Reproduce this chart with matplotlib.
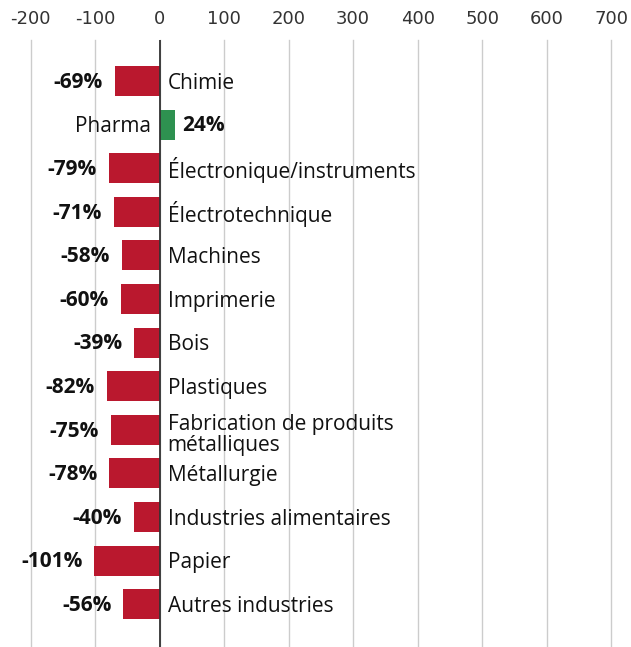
import matplotlib
matplotlib.use("Agg")
import matplotlib.pyplot as plt

# croissance des exportations par branche, en %
branches = ["Chimie", "Pharma", "Électronique/instruments", "Électrotechnique",
            "Machines", "Imprimerie", "Bois", "Plastiques",
            "Fabrication de produits\nmétalliques", "Métallurgie",
            "Industries alimentaires", "Papier", "Autres industries"]
valeurs = [-69, 24, -79, -71, -58, -60, -39, -82, -75, -78, -40, -101, -56]
xticks = [-200, -100, 0, 100, 200, 300, 400, 500, 600, 700]

ROUGE = "#BA182E"
VERT = "#2E9150"
FONT = "Open Sans"
plt.rcParams["axes.unicode_minus"] = False

fig = plt.figure(figsize=(6.31, 6.47), dpi=100)
ax = fig.add_axes([30.5 / 631, 0, 580.8 / 631, 1 - 40 / 647])

pos = list(range(len(branches)))
couleurs = [VERT if v > 0 else ROUGE for v in valeurs]
ax.barh(pos, valeurs, height=0.69, color=couleurs, zorder=2)

ax.set_xlim(-200, 700)
ax.set_ylim(12.98, -0.94)
ax.set_xticks(xticks)
ax.xaxis.tick_top()
ax.tick_params(axis="x", length=0, pad=9, labelsize=13, labelcolor="#333333")
ax.tick_params(axis="y", left=False, labelleft=False)
for lbl in ax.get_xticklabels():
    lbl.set_family("DejaVu Sans")
ax.grid(axis="x", color="#cccccc", linewidth=1, zorder=0)
for g in ax.get_xgridlines():
    g.set_clip_on(False)
for s in ax.spines.values():
    s.set_visible(False)
ax.axvline(0, color="#333333", linewidth=1.3, zorder=3)

# écart des étiquettes en unités de données (64.5 px pour 100)
px = 100 / 64.5
fs = 15
for i, (nom, v) in enumerate(zip(branches, valeurs)):
    dy = 0.05 if "\n" not in nom else 0.12
    if v < 0:
        ax.text(v - 12 * px, i + 0.03, f"{v}%", ha="right", va="center",
                fontsize=fs, fontweight="bold", family=FONT, color="#111111")
        ax.text(8 * px, i + dy, nom, ha="left", va="center", fontsize=fs,
                family=FONT, color="#111111", linespacing=1.0)
    else:
        ax.text(v + 7 * px, i + 0.03, f"{v}%", ha="left", va="center",
                fontsize=fs, fontweight="bold", family=FONT, color="#111111")
        ax.text(-9 * px, i + dy, nom, ha="right", va="center", fontsize=fs,
                family=FONT, color="#111111")

fig.savefig("out.png", dpi=100)
